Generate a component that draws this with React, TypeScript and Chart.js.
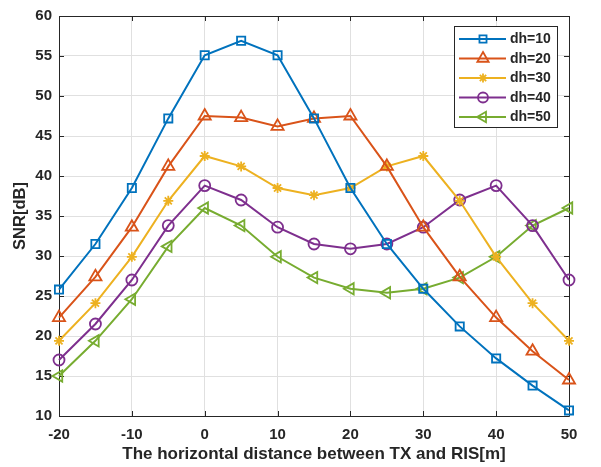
import React, { useEffect, useRef } from "react";
import { Chart, registerables } from "chart.js";

Chart.register(...registerables);

const distances = [-20, -15, -10, -5, 0, 5, 10, 15, 20, 25, 30, 35, 40, 45, 50];
const xTicks = [-20, -10, 0, 10, 20, 30, 40, 50];
const yTicks = [10, 15, 20, 25, 30, 35, 40, 45, 50, 55, 60];

const seriesLabels = ["dh=10", "dh=20", "dh=30", "dh=40", "dh=50"];
const dh10 = [25.8, 31.5, 38.5, 47.2, 55.1, 56.9, 55.1, 47.2, 38.5, 31.5, 25.9, 21.2, 17.2, 13.8, 10.7];
const dh20 = [22.3, 27.4, 33.6, 41.2, 47.5, 47.3, 46.2, 47.2, 47.5, 41.2, 33.6, 27.4, 22.3, 18.1, 14.5];
const dh30 = [19.4, 24.1, 29.9, 36.9, 42.5, 41.2, 38.5, 37.6, 38.5, 41.2, 42.5, 36.9, 29.9, 24.1, 19.4];
const dh40 = [17.0, 21.5, 27.0, 33.8, 38.8, 37.0, 33.6, 31.5, 30.9, 31.5, 33.6, 37.0, 38.8, 33.8, 27.0];
const dh50 = [15.0, 19.4, 24.6, 31.2, 36.0, 33.8, 29.9, 27.3, 25.9, 25.4, 25.9, 27.3, 29.9, 33.8, 36.0];
const seriesValues = [dh10, dh20, dh30, dh40, dh50];

const colors = ["#0072BD", "#D95319", "#EDB120", "#7E2F8E", "#77AC30"];
const pointStyles = ["rect", "triangle", "star", "circle", "triangle"];
const pointRotations = [0, 0, 0, 0, -90];
const pointRadii = [5.8, 7, 5, 5.5, 6.5];
const legendRadii = [5, 6.5, 4.5, 5, 6];

const FONT = "'Liberation Sans', Arial, sans-serif";
const AXIS_COLOR = "#262626";

const boxPlugin = {
  id: "matlabBox",
  beforeDatasetsDraw(chart: any) {
    const { ctx, chartArea } = chart;
    const { left, right, top, bottom } = chartArea;
    const xs = chart.scales.x;
    const ys = chart.scales.y;
    ctx.save();
    ctx.strokeStyle = AXIS_COLOR;
    ctx.lineWidth = 1;
    ctx.beginPath();
    ctx.rect(Math.round(left) + 0.5, Math.round(top) + 0.5, Math.round(right - left), Math.round(bottom - top));
    ctx.stroke();
    const tl = 5;
    ctx.beginPath();
    xTicks.forEach((v) => {
      const px = Math.round(xs.getPixelForValue(v)) + 0.5;
      ctx.moveTo(px, bottom);
      ctx.lineTo(px, bottom - tl);
      ctx.moveTo(px, top);
      ctx.lineTo(px, top + tl);
    });
    yTicks.forEach((v) => {
      const py = Math.round(ys.getPixelForValue(v)) + 0.5;
      ctx.moveTo(left, py);
      ctx.lineTo(left + tl, py);
      ctx.moveTo(right, py);
      ctx.lineTo(right - tl, py);
    });
    ctx.stroke();
    ctx.restore();
  },
};

function drawMarker(ctx: any, style: string, r: number, rot: number, x: number, y: number) {
  ctx.save();
  ctx.translate(x, y);
  ctx.rotate((rot * Math.PI) / 180);
  ctx.beginPath();
  if (style === "rect") {
    const s = r * Math.SQRT1_2;
    ctx.rect(-s, -s, 2 * s, 2 * s);
  } else if (style === "triangle") {
    for (let k = 0; k < 3; k++) {
      const a = -Math.PI / 2 + (k * 2 * Math.PI) / 3;
      const px = Math.cos(a) * r;
      const py = Math.sin(a) * r;
      if (k === 0) ctx.moveTo(px, py);
      else ctx.lineTo(px, py);
    }
    ctx.closePath();
  } else if (style === "circle") {
    ctx.arc(0, 0, r, 0, Math.PI * 2);
  } else if (style === "star") {
    for (let k = 0; k < 4; k++) {
      const a = (k * Math.PI) / 4;
      ctx.moveTo(Math.cos(a) * r, Math.sin(a) * r);
      ctx.lineTo(-Math.cos(a) * r, -Math.sin(a) * r);
    }
  }
  ctx.stroke();
  ctx.restore();
}

const legendPlugin = {
  id: "matlabLegend",
  afterDraw(chart: any) {
    const { ctx } = chart;
    const bx = 454.5, by = 26.5, bw = 103, bh = 101;
    ctx.save();
    ctx.fillStyle = "#ffffff";
    ctx.fillRect(bx, by, bw, bh);
    ctx.strokeStyle = AXIS_COLOR;
    ctx.lineWidth = 1;
    ctx.strokeRect(bx, by, bw, bh);
    const rowY = [39, 58.5, 78, 97.5, 117];
    seriesLabels.forEach((lab, i) => {
      const y = rowY[i];
      ctx.strokeStyle = colors[i];
      ctx.lineWidth = 2;
      ctx.beginPath();
      ctx.moveTo(459, y);
      ctx.lineTo(506, y);
      ctx.stroke();
      ctx.lineWidth = 1.8;
      drawMarker(ctx, pointStyles[i], legendRadii[i], pointRotations[i], 483, y);
      ctx.fillStyle = AXIS_COLOR;
      ctx.font = `bold 14px ${FONT}`;
      ctx.textAlign = "left";
      ctx.textBaseline = "middle";
      ctx.fillText(lab, 510, y + 0.5);
    });
    ctx.restore();
  },
};

export default function App() {
  const canvasRef = useRef<HTMLCanvasElement | null>(null);

  useEffect(() => {
    document.body.style.margin = "0";
    const canvas = canvasRef.current;
    if (!canvas) return;
    const datasets = seriesLabels.map((lab, i) => ({
      label: lab,
      data: distances.map((d, j) => ({ x: d, y: seriesValues[i][j] })),
      borderColor: colors[i],
      backgroundColor: "rgba(0,0,0,0)",
      borderWidth: 2,
      pointStyle: pointStyles[i] as any,
      pointRotation: pointRotations[i],
      pointRadius: pointRadii[i],
      pointBorderWidth: 1.8,
      pointBorderColor: colors[i],
      pointBackgroundColor: "rgba(0,0,0,0)",
      tension: 0,
      clip: 10,
    }));
    const chart = new Chart(canvas, {
      type: "line",
      data: { datasets },
      options: {
        animation: false,
        responsive: false,
        maintainAspectRatio: false,
        layout: { padding: { top: 14, right: 32, left: 0, bottom: 0 } },
        plugins: {
          legend: { display: false },
          tooltip: { enabled: false },
        },
        scales: {
          x: {
            type: "linear",
            min: -20,
            max: 50,
            afterBuildTicks: (scale: any) => {
              scale.ticks = xTicks.map((v) => ({ value: v }));
            },
            afterFit: (scale: any) => {
              scale.height = 51;
            },
            grid: { color: "#e0e0e0", lineWidth: 1, drawTicks: false },
            border: { display: false },
            ticks: {
              color: AXIS_COLOR,
              font: { family: FONT, size: 15, weight: "bold" },
              padding: 10,
              maxRotation: 0,
            },
            title: {
              display: true,
              text: "The horizontal distance between TX and RIS[m]",
              color: AXIS_COLOR,
              font: { family: FONT, size: 17, weight: "bold" },
              padding: { top: 2, bottom: 2 },
            },
          },
          y: {
            type: "linear",
            min: 10,
            max: 60,
            afterBuildTicks: (scale: any) => {
              scale.ticks = yTicks.map((v) => ({ value: v }));
            },
            afterFit: (scale: any) => {
              scale.width = 59;
            },
            grid: { color: "#e0e0e0", lineWidth: 1, drawTicks: false },
            border: { display: false },
            ticks: {
              color: AXIS_COLOR,
              font: { family: FONT, size: 15, weight: "bold" },
              padding: 7,
            },
            title: {
              display: true,
              text: "SNR[dB]",
              color: AXIS_COLOR,
              font: { family: FONT, size: 16.5, weight: "bold" },
              padding: { top: 11, bottom: 0 },
            },
          },
        },
      },
      plugins: [boxPlugin, legendPlugin],
    });
    return () => chart.destroy();
  }, []);

  return (
    <div style={{ position: "fixed", left: 0, top: 0, width: 601, height: 467, background: "#ffffff" }}>
      <canvas ref={canvasRef} width={601} height={467} style={{ width: 601, height: 467, display: "block" }} />
    </div>
  );
}
